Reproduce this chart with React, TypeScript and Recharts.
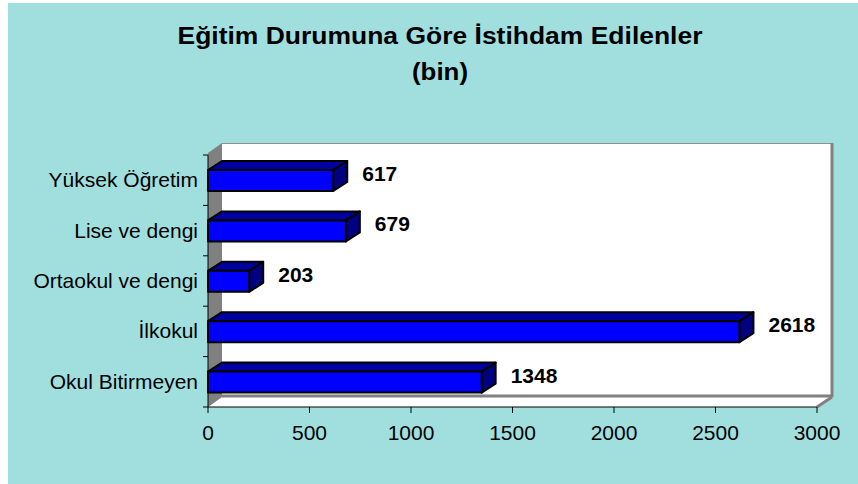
import { Bar, BarChart, LabelList, XAxis, YAxis } from "recharts";

const categories = [
  "Yüksek Öğretim",
  "Lise ve dengi",
  "Ortaokul ve dengi",
  "İlkokul",
  "Okul Bitirmeyen",
];
const employed = [617, 679, 203, 2618, 1348];
const xTicks = [0, 500, 1000, 1500, 2000, 2500, 3000];

const data = categories.map((name, i) => ({ name, value: employed[i] }));

const FONT = '"Liberation Sans", Arial, sans-serif';
const DX = 14;
const DY = 9;
const BAND = 50.4;

function Bar3D(props: any) {
  const { x, y, width, height } = props;
  const top = `${x},${y} ${x + DX},${y - DY} ${x + width + DX},${y - DY} ${x + width},${y}`;
  const side = `${x + width},${y} ${x + width + DX},${y - DY} ${x + width + DX},${y + height - DY} ${x + width},${y + height}`;
  return (
    <g stroke="#000" strokeWidth={2} strokeLinejoin="round">
      <polygon points={top} fill="#0000a0" />
      <polygon points={side} fill="#000080" />
      <rect x={x} y={y} width={width} height={height} fill="#0000ff" />
    </g>
  );
}

function ValueLabel(props: any) {
  const { x, y, width, value } = props;
  return (
    <text
      x={x + width + DX + 15}
      y={y + 11}
      fontFamily={FONT}
      fontSize={21}
      fontWeight="bold"
      fill="#000"
    >
      {value}
    </text>
  );
}

function CategoryTick(props: any) {
  const { x, y, payload, index } = props;
  return (
    <g>
      <line x1={x + 3} x2={x + 8} y1={y - BAND / 2} y2={y - BAND / 2} stroke="#000" />
      {index === categories.length - 1 && (
        <line x1={x + 3} x2={x + 8} y1={y + BAND / 2} y2={y + BAND / 2} stroke="#000" />
      )}
      <text x={x - 2} y={y + 7} textAnchor="end" fontFamily={FONT} fontSize={21} fill="#000">
        {payload.value}
      </text>
    </g>
  );
}

function Backdrop() {
  return (
    <svg width={858} height={484} style={{ position: "absolute", left: 0, top: 0 }}>
      <rect x={8} y={3} width={860} height={500} fill="#a1dfdf" />
      <text
        x={440}
        y={44}
        textAnchor="middle"
        fontFamily={FONT}
        fontSize={23}
        fontWeight="bold"
        textLength={525}
        lengthAdjust="spacingAndGlyphs"
      >
        Eğitim Durumuna Göre İstihdam Edilenler
      </text>
      <text
        x={440}
        y={80}
        textAnchor="middle"
        fontFamily={FONT}
        fontSize={23}
        fontWeight="bold"
        textLength={56}
        lengthAdjust="spacingAndGlyphs"
      >
        (bin)
      </text>
      <rect x={222} y={143} width={610} height={254} fill="#fff" />
      <polygon points="208,407 222,397 832,397 817,407" fill="#fff" />
      <polygon points="208,153 222,143 222,397 208,407" fill="#808080" />
      <line x1={222} y1={143.5} x2={832} y2={143.5} stroke="#909090" strokeWidth={1} />
      <line x1={832} y1={143} x2={832} y2={397} stroke="#808080" strokeWidth={3} />
      <line x1={222} y1={396} x2={832} y2={396} stroke="#808080" strokeWidth={3} />
      <line x1={832} y1={397} x2={817} y2={407} stroke="#808080" strokeWidth={3} />
    </svg>
  );
}

export default function App() {
  return (
    <div style={{ position: "absolute", left: 0, top: 0, width: 858, height: 484, background: "#fff", overflow: "hidden" }}>
      <Backdrop />
      <div style={{ position: "absolute", left: 0, top: 0 }}>
        <BarChart
          width={858}
          height={484}
          data={data}
          layout="vertical"
          margin={{ top: 155, right: 41, bottom: 47, left: 8 }}
        >
          <XAxis
            type="number"
            domain={[0, 3000]}
            ticks={xTicks}
            stroke="#000"
            tickMargin={12}
            tick={{ fill: "#000", fontSize: 21, fontFamily: FONT }}
            height={30}
          />
          <YAxis
            type="category"
            dataKey="name"
            width={200}
            stroke="#000"
            tickLine={false}
            tick={<CategoryTick />}
            interval={0}
          />
          <Bar dataKey="value" barSize={21} shape={<Bar3D />} isAnimationActive={false}>
            <LabelList dataKey="value" content={<ValueLabel />} />
          </Bar>
        </BarChart>
      </div>
    </div>
  );
}
